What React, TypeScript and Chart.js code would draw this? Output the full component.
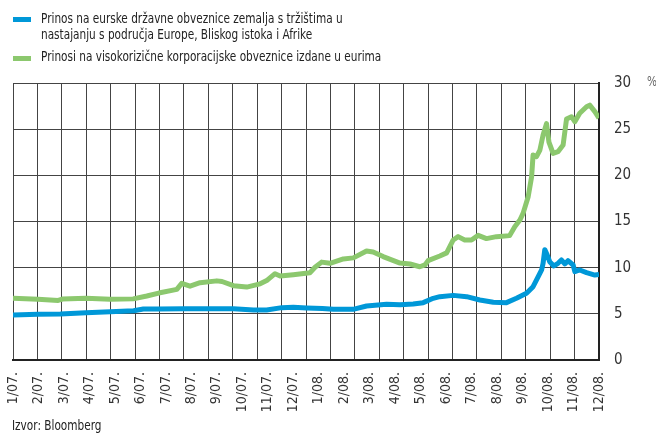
import React, { useEffect, useRef } from "react";
import { Chart, registerables } from "chart.js";

Chart.register(...registerables);

// Month labels (Jan 2007 .. Dec 2008)
const monthLabels = [
  "1/07.", "2/07.", "3/07.", "4/07.", "5/07.", "6/07.", "7/07.", "8/07.", "9/07.", "10/07.", "11/07.", "12/07.",
  "1/08.", "2/08.", "3/08.", "4/08.", "5/08.", "6/08.", "7/08.", "8/08.", "9/08.", "10/08.", "11/08.", "12/08.",
];

// Position in months since start of Jan 2007
const greenX = [
  0.0, 1.02, 1.85, 2.02, 2.99, 3.98, 4.92, 5.48, 5.97, 6.71, 6.91, 7.25, 7.66, 8.35, 8.56, 9.03, 9.57, 10.12,
  10.39, 10.73, 10.94, 11.48, 12.16, 12.37, 12.64, 12.98, 13.53, 13.94, 14.48, 14.75, 15.16, 15.85, 16.26, 16.66,
  16.87, 17.0, 17.48, 17.76, 18.03, 18.23, 18.5, 18.78, 19.05, 19.39, 19.8, 20.34, 20.55, 20.76, 20.89, 21.1,
  21.24, 21.3, 21.44, 21.58, 21.71, 21.85, 21.95, 22.12, 22.32, 22.53, 22.67, 22.87, 23.01, 23.21, 23.49, 23.62,
  23.83, 24.0,
];
const greenY = [
  6.68, 6.57, 6.45, 6.6, 6.68, 6.57, 6.62, 6.93, 7.25, 7.65, 8.3, 8.0, 8.37, 8.57, 8.5, 8.05, 7.9, 8.25,
  8.6, 9.35, 9.1, 9.24, 9.45, 10.04, 10.6, 10.47, 10.95, 11.06, 11.8, 11.7, 11.2, 10.5, 10.4, 10.1,
  10.3, 10.76, 11.26, 11.6, 13.0, 13.36, 13.0, 13.0, 13.5, 13.15, 13.36, 13.47, 14.44, 15.16, 15.88, 17.69,
  19.85, 22.2, 22.02, 22.74, 24.37, 25.6, 23.6, 22.38, 22.56, 23.29, 26.1, 26.35, 25.81, 26.72, 27.43, 27.6,
  26.9, 26.2,
];

const blueX = [
  0.0, 1.02, 1.94, 2.99, 3.98, 4.94, 5.34, 5.97, 6.98, 8.0, 9.03, 9.85, 10.39, 11.01, 11.48, 12.03, 12.67,
  13.12, 13.93, 14.48, 15.3, 15.85, 16.39, 16.8, 17.21, 17.48, 18.03, 18.58, 19.12, 19.67, 20.21, 20.62, 21.03,
  21.3, 21.51, 21.65, 21.71, 21.78, 21.88, 21.98, 22.15, 22.32, 22.46, 22.6, 22.73, 22.94, 23.01, 23.21, 23.49,
  23.83, 24.0,
];
const blueY = [
  4.87, 4.95, 4.98, 5.12, 5.23, 5.34, 5.52, 5.52, 5.56, 5.56, 5.55, 5.41, 5.42, 5.67, 5.7, 5.63, 5.58,
  5.49, 5.49, 5.85, 6.03, 5.99, 6.07, 6.21, 6.68, 6.86, 7.0, 6.86, 6.5, 6.25, 6.21, 6.68, 7.22,
  7.94, 9.02, 9.75, 10.47, 11.95, 11.37, 10.65, 10.18, 10.47, 10.83, 10.4, 10.76, 10.29, 9.57, 9.75, 9.46,
  9.2, 9.25,
];

// Legend text (first series name spans two lines)
const blueNameLines = [
  "Prinos na eurske državne obveznice zemalja s tržištima u",
  "nastajanju s područja Europe, Bliskog istoka i Afrike",
];
const greenName = "Prinosi na visokorizične korporacijske obveznice izdane u eurima";
const sourceText = "Izvor: Bloomberg";

const blueColor = "#0098d8";
const greenColor = "#8cc86e";
const FONT = '"Liberation Sans Narrow", "Arial Narrow", "DejaVu Sans Condensed", sans-serif';

export default function App() {
  const ref = useRef<HTMLCanvasElement | null>(null);

  useEffect(() => {
    if (!ref.current) return;
    const chart = new Chart(ref.current, {
      type: "line",
      data: {
        datasets: [
          {
            label: blueNameLines.join(" "),
            data: blueX.map((x, i) => ({ x, y: blueY[i] })),
            borderColor: blueColor,
            borderWidth: 5,
            pointRadius: 0,
            tension: 0,
            borderJoinStyle: "round",
            xAxisID: "x",
            yAxisID: "y",
          },
          {
            label: greenName,
            data: greenX.map((x, i) => ({ x, y: greenY[i] })),
            borderColor: greenColor,
            borderWidth: 5,
            pointRadius: 0,
            tension: 0,
            borderJoinStyle: "round",
            xAxisID: "x",
            yAxisID: "y",
          },
        ],
      },
      options: {
        animation: false,
        responsive: false,
        maintainAspectRatio: false,
        layout: { padding: { left: 13, top: 83, right: 0, bottom: 0 } },
        plugins: { legend: { display: false }, tooltip: { enabled: false } },
        scales: {
          x: {
            type: "linear",
            position: "bottom",
            min: 0,
            max: 24,
            weight: 1,
            ticks: { display: false, stepSize: 1 },
            grid: { color: "#444", lineWidth: 1, drawTicks: false },
            border: { display: true, color: "#222", width: 2 },
            afterFit: (s: any) => {
              s.height = 0;
            },
          },
          xl: {
            type: "linear",
            position: "bottom",
            min: 0,
            max: 23,
            weight: 2,
            ticks: {
              stepSize: 1,
              autoSkip: false,
              maxRotation: 90,
              minRotation: 90,
              padding: 12,
              color: "#333",
              font: { family: FONT, size: 14 },
              callback: (v: any) => monthLabels[Math.round(Number(v))] ?? "",
            },
            grid: { display: false, drawTicks: false },
            border: { display: false },
            afterFit: (s: any) => {
              s.height = 73;
            },
          },
          y: {
            type: "linear",
            position: "right",
            min: 0,
            max: 30,
            ticks: {
              stepSize: 5,
              padding: 15,
              color: "#333",
              font: { family: FONT, size: 15 },
            },
            grid: { color: "#444", lineWidth: 1, drawTicks: false },
            border: { display: true, color: "#222", width: 2 },
            afterFit: (s: any) => {
              s.width = 57;
            },
          },
        },
      },
    });
    return () => chart.destroy();
  }, []);

  const textStyle: React.CSSProperties = {
    fontFamily: FONT,
    fontSize: 14,
    lineHeight: "15.5px",
    color: "#222",
    whiteSpace: "nowrap",
    transform: "scaleX(0.835)",
    transformOrigin: "0 0",
  };

  return (
    <div style={{ position: "fixed", left: 0, top: 0, width: 656, height: 433, background: "#fff" }}>
      <canvas ref={ref} width={656} height={433} style={{ position: "absolute", left: 0, top: 0, width: 656, height: 433 }} />
      <div style={{ position: "absolute", left: 13, top: 17, width: 18, height: 5, background: blueColor }} />
      <div style={{ ...textStyle, position: "absolute", left: 41, top: 11 }}>
        {blueNameLines[0]}
        <br />
        {blueNameLines[1]}
      </div>
      <div style={{ position: "absolute", left: 13, top: 56, width: 18, height: 5, background: greenColor }} />
      <div style={{ ...textStyle, position: "absolute", left: 41, top: 49 }}>{greenName}</div>
      <div style={{ ...textStyle, position: "absolute", left: 647, top: 74, color: "#666" }}>%</div>
      <div style={{ ...textStyle, position: "absolute", left: 12, top: 418 }}>{sourceText}</div>
    </div>
  );
}
